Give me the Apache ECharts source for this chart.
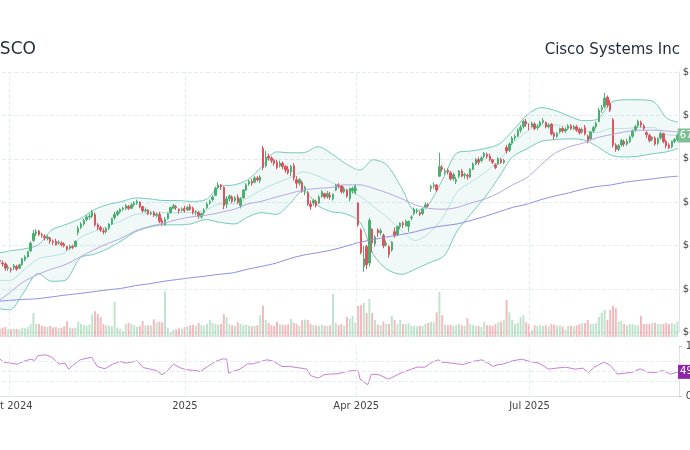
<!DOCTYPE html>
<html>
<head>
<meta charset="utf-8">
<title>CSCO</title>
<script src="https://cdn.jsdelivr.net/npm/echarts@6/dist/echarts.min.js"></script>
<style>
  html, body { margin: 0; padding: 0; background: #fff; }
  #chart { width: 690px; height: 450px; }
</style>
</head>
<body>
<div id="chart"></div>
<script>
const ticker = 'CSCO';
const company = 'Cisco Systems Inc';

// trading days
const days = [
  '2024-09-24','2024-09-25','2024-09-26','2024-09-27','2024-09-30',
  '2024-10-01','2024-10-02','2024-10-03','2024-10-04','2024-10-07','2024-10-08','2024-10-09','2024-10-10','2024-10-11','2024-10-14','2024-10-15','2024-10-16','2024-10-17','2024-10-18','2024-10-21','2024-10-22','2024-10-23','2024-10-24','2024-10-25','2024-10-28','2024-10-29','2024-10-30','2024-10-31',
  '2024-11-01','2024-11-04','2024-11-05','2024-11-06','2024-11-07','2024-11-08','2024-11-11','2024-11-12','2024-11-13','2024-11-14','2024-11-15','2024-11-18','2024-11-19','2024-11-20','2024-11-21','2024-11-22','2024-11-25','2024-11-26','2024-11-27','2024-11-29',
  '2024-12-02','2024-12-03','2024-12-04','2024-12-05','2024-12-06','2024-12-09','2024-12-10','2024-12-11','2024-12-12','2024-12-13','2024-12-16','2024-12-17','2024-12-18','2024-12-19','2024-12-20','2024-12-23','2024-12-24','2024-12-26','2024-12-27','2024-12-30','2024-12-31',
  '2025-01-02','2025-01-03','2025-01-06','2025-01-07','2025-01-08','2025-01-10','2025-01-13','2025-01-14','2025-01-15','2025-01-16','2025-01-17','2025-01-21','2025-01-22','2025-01-23','2025-01-24','2025-01-27','2025-01-28','2025-01-29','2025-01-30','2025-01-31',
  '2025-02-03','2025-02-04','2025-02-05','2025-02-06','2025-02-07','2025-02-10','2025-02-11','2025-02-12','2025-02-13','2025-02-14','2025-02-18','2025-02-19','2025-02-20','2025-02-21','2025-02-24','2025-02-25','2025-02-26','2025-02-27','2025-02-28',
  '2025-03-03','2025-03-04','2025-03-05','2025-03-06','2025-03-07','2025-03-10','2025-03-11','2025-03-12','2025-03-13','2025-03-14','2025-03-17','2025-03-18','2025-03-19','2025-03-20','2025-03-21','2025-03-24','2025-03-25','2025-03-26','2025-03-27','2025-03-28','2025-03-31',
  '2025-04-01','2025-04-02','2025-04-03','2025-04-04','2025-04-07','2025-04-08','2025-04-09','2025-04-10','2025-04-11','2025-04-14','2025-04-15','2025-04-16','2025-04-17','2025-04-21','2025-04-22','2025-04-23','2025-04-24','2025-04-25','2025-04-28','2025-04-29','2025-04-30',
  '2025-05-01','2025-05-02','2025-05-05','2025-05-06','2025-05-07','2025-05-08','2025-05-09','2025-05-12','2025-05-13','2025-05-14','2025-05-15','2025-05-16','2025-05-19','2025-05-20','2025-05-21','2025-05-22','2025-05-23','2025-05-27','2025-05-28','2025-05-29','2025-05-30',
  '2025-06-02','2025-06-03','2025-06-04','2025-06-05','2025-06-06','2025-06-09','2025-06-10','2025-06-11','2025-06-12','2025-06-13','2025-06-16','2025-06-17','2025-06-18','2025-06-20','2025-06-23','2025-06-24','2025-06-25','2025-06-26','2025-06-27','2025-06-30',
  '2025-07-01','2025-07-02','2025-07-03','2025-07-07','2025-07-08','2025-07-09','2025-07-10','2025-07-11','2025-07-14','2025-07-15','2025-07-16','2025-07-17','2025-07-18','2025-07-21','2025-07-22','2025-07-23','2025-07-24','2025-07-25','2025-07-28','2025-07-29','2025-07-30','2025-07-31',
  '2025-08-01','2025-08-04','2025-08-05','2025-08-06','2025-08-07','2025-08-08','2025-08-11','2025-08-12','2025-08-13','2025-08-14','2025-08-15','2025-08-18','2025-08-19','2025-08-20','2025-08-21','2025-08-22','2025-08-25','2025-08-26','2025-08-27','2025-08-28','2025-08-29',
  '2025-09-02','2025-09-03','2025-09-04','2025-09-05','2025-09-08','2025-09-09','2025-09-10','2025-09-11','2025-09-12','2025-09-15','2025-09-16','2025-09-17'
];

// [open, close, low, high]
const ohlc = [
  [52.0,52.3,51.8,52.5],[52.3,52.6,52.1,52.8],[53.0,53.1,52.6,53.4],[53.3,53.2,52.9,53.6],[53.0,52.9,52.6,53.3],
  [52.9,52.4,52.1,53.1],[52.4,52.5,52.1,52.8],[52.3,52.2,51.9,52.5],[52.5,52.7,52.2,52.9],[52.6,52.3,52.1,52.8],[52.4,52.8,52.3,52.9],[52.8,53.5,52.7,53.6],[53.4,53.7,53.2,53.9],[53.7,54.3,53.6,54.4],[54.4,55.3,54.3,55.5],[55.6,56.4,55.4,56.8],[56.4,56.6,56.1,56.9],[56.7,56.3,56.1,56.8],[56.3,56.2,55.9,56.5],[56.1,55.9,55.6,56.3],[55.8,56.0,55.6,56.2],[55.9,55.5,55.2,56.0],[55.5,55.4,55.1,55.7],[55.5,55.1,55.0,55.8],[55.3,55.4,55.1,55.6],[55.3,55.1,54.9,55.5],[55.2,55.0,54.8,55.4],[54.9,54.6,54.4,55.0],
  [54.7,54.9,54.5,55.1],[54.9,54.8,54.6,55.1],[54.9,55.5,54.8,55.6],[56.5,57.0,56.2,57.3],[57.1,57.5,56.9,57.7],[57.5,57.9,57.3,58.1],[58.0,58.3,57.8,58.5],[58.3,58.4,58.0,58.7],[58.4,58.9,58.2,59.1],[58.6,57.4,57.2,58.8],[57.4,57.1,56.8,57.6],[57.1,56.8,56.6,57.3],[56.7,56.6,56.3,57.0],[56.6,57.0,56.4,57.1],[57.0,57.5,56.8,57.6],[57.5,58.1,57.4,58.2],[58.2,58.6,58.0,58.9],[58.6,58.9,58.4,59.1],[58.9,59.2,58.7,59.3],[59.2,59.3,59.0,59.5],
  [59.3,59.6,59.1,59.8],[59.5,59.3,59.1,59.7],[59.3,59.7,59.2,59.9],[59.7,59.9,59.5,60.1],[59.9,60.1,59.7,60.3],[60.0,59.5,59.3,60.1],[59.5,59.0,58.8,59.6],[59.0,59.1,58.8,59.4],[59.1,58.7,58.5,59.2],[58.7,58.8,58.5,59.0],[58.8,58.5,58.3,59.0],[58.5,58.6,58.2,58.8],[58.6,57.8,57.6,58.9],[57.9,57.6,57.3,58.2],[57.4,58.0,57.3,58.3],[58.1,58.7,58.0,58.8],[58.8,59.4,58.7,59.5],[59.3,59.6,59.2,59.8],[59.5,59.4,59.1,59.7],[59.2,59.0,58.7,59.3],[59.1,59.2,58.9,59.4],
  [59.3,59.0,58.8,59.6],[59.1,59.4,59.0,59.6],[59.5,59.2,59.0,59.8],[59.3,58.8,58.6,59.5],[58.8,58.9,58.5,59.1],[58.8,58.4,58.1,59.0],[58.3,58.7,58.1,58.8],[58.8,59.1,58.6,59.3],[59.4,59.8,59.2,60.0],[59.9,60.1,59.7,60.3],[60.3,60.6,60.1,60.8],[60.8,61.6,60.7,61.8],[61.7,62.0,61.5,62.3],[62.0,61.8,61.4,62.1],[61.7,59.6,59.2,61.8],[59.8,60.4,59.3,60.7],[60.4,60.7,60.1,60.9],[60.6,60.1,59.9,60.8],[60.2,60.5,60.0,60.7],[60.6,60.0,59.8,60.9],
  [59.6,60.4,59.3,60.6],[60.5,61.4,60.4,61.5],[61.4,62.0,61.3,62.2],[62.1,62.4,61.9,62.6],[62.4,62.2,61.9,62.7],[62.3,62.8,62.2,63.0],[62.8,62.6,62.4,63.0],[62.5,62.9,62.2,63.1],[66.2,64.0,63.7,66.5],[64.2,65.2,64.0,65.9],[65.3,65.1,64.8,65.6],[65.1,64.8,64.5,65.3],[64.8,64.5,64.2,65.0],[64.6,64.0,63.8,64.9],[64.2,64.5,64.0,64.8],[64.5,64.1,63.8,64.7],[64.1,63.7,63.4,64.3],[63.8,63.4,63.2,64.2],[63.5,64.1,63.0,64.3],
  [64.2,62.8,62.5,64.5],[62.6,62.2,61.6,63.0],[62.2,62.6,61.9,62.8],[62.3,61.3,61.1,62.5],[61.3,61.7,60.8,61.9],[61.1,59.8,59.6,61.3],[59.8,59.5,59.1,60.2],[59.9,60.2,59.6,60.4],[60.1,59.6,59.4,60.3],[59.9,60.6,59.8,60.8],[60.7,61.2,60.5,61.4],[61.0,60.6,60.4,61.1],[60.6,61.0,60.4,61.3],[60.8,60.6,60.3,61.2],[60.4,60.9,60.2,61.0],[61.4,62.0,61.3,62.1],[62.0,61.8,61.6,62.2],[61.9,61.2,61.0,62.0],[61.2,61.5,61.0,61.8],[61.4,60.7,60.5,61.5],[60.4,61.6,60.1,61.7],
  [61.3,61.6,61.0,61.8],[61.1,61.9,60.9,62.1],[59.9,57.4,57.2,60.0],[56.8,54.2,54.0,57.0],[52.6,53.5,52.0,55.0],[54.9,52.8,52.3,55.1],[53.0,57.9,52.6,58.2],[56.9,55.3,54.2,57.0],[55.2,56.0,54.9,56.2],[56.8,56.5,56.0,57.0],[56.5,56.7,56.2,57.0],[56.2,55.0,54.7,56.4],[55.1,55.3,54.9,55.6],[54.9,54.0,53.6,55.0],[54.5,55.4,54.3,55.5],[56.6,56.2,55.9,57.1],[56.3,57.2,56.1,57.3],[57.2,57.6,56.9,57.7],[57.6,57.4,57.0,57.8],[57.3,57.8,57.2,58.0],[57.2,57.8,56.6,57.9],
  [58.2,58.3,57.9,58.5],[58.7,59.2,58.5,59.4],[58.9,59.0,58.7,59.3],[58.8,58.6,58.4,59.0],[58.7,59.2,58.5,59.3],[59.4,59.7,59.2,60.0],[59.7,59.6,59.4,59.9],[61.6,61.8,61.2,62.0],[61.9,62.0,61.6,62.3],[62.0,61.4,61.2,62.1],[63.0,64.1,62.9,65.7],[64.0,63.8,63.5,64.3],[63.5,63.6,63.2,63.9],[63.7,63.5,63.2,63.9],[63.4,62.7,62.5,63.6],[62.7,63.2,62.5,63.4],[62.4,62.6,62.1,62.9],[63.0,63.6,62.8,63.7],[63.6,63.0,62.9,63.8],[63.1,63.2,62.7,63.4],[63.1,63.0,62.6,63.3],
  [62.9,63.8,62.8,63.9],[63.8,64.4,63.7,64.6],[64.4,64.9,64.3,65.1],[64.9,64.6,64.3,65.2],[64.8,65.1,64.6,65.3],[65.3,65.6,65.1,65.8],[65.5,65.3,65.0,65.7],[65.3,64.9,64.7,65.6],[64.9,64.6,64.4,65.0],[64.3,64.0,63.8,64.5],[64.4,65.0,64.3,65.2],[64.9,64.6,64.4,65.1],[64.6,64.8,64.4,65.0],[66.3,65.9,65.6,66.6],[66.0,66.7,65.8,66.9],[66.8,67.4,66.6,67.6],[67.4,67.6,67.1,67.8],[67.6,68.3,67.5,68.5],[68.3,68.6,68.0,68.9],[68.7,69.3,68.5,69.5],
  [69.3,69.0,68.7,69.6],[68.9,68.6,68.3,69.1],[68.7,69.1,68.6,69.3],[69.0,68.5,68.3,69.2],[68.6,68.7,68.3,69.0],[68.8,69.2,68.6,69.4],[69.2,69.4,69.0,69.7],[69.2,68.7,68.5,69.3],[68.7,68.9,68.5,69.1],[69.0,67.9,67.7,69.1],[67.9,67.6,67.2,68.1],[67.6,67.9,67.4,68.1],[68.1,68.5,67.9,68.6],[68.5,68.2,68.0,68.7],[68.2,68.4,68.0,68.6],[68.5,68.8,68.3,69.0],[68.8,68.5,68.3,69.0],[68.5,68.7,68.3,68.9],[68.7,68.3,68.1,68.9],[68.4,68.0,67.8,68.6],[68.1,68.4,67.9,68.6],[68.6,67.9,67.7,68.9],
  [67.6,67.0,66.8,67.8],[67.3,68.1,67.2,68.2],[68.2,68.6,68.0,68.8],[68.7,69.1,68.5,69.3],[69.3,70.6,69.2,70.9],[70.7,70.9,70.3,71.2],[71.0,72.0,70.8,72.6],[72.1,71.2,70.9,72.3],[71.4,70.6,70.4,71.8],[69.5,66.6,66.3,69.7],[66.6,66.1,65.8,66.8],[66.1,66.5,65.9,66.7],[66.6,67.1,66.4,67.3],[67.0,66.7,66.4,67.2],[66.7,67.0,66.5,67.3],[67.0,67.5,66.8,67.7],[67.6,68.2,67.4,68.4],[68.3,68.7,68.1,68.9],[68.8,69.3,68.6,69.5],[69.2,68.9,68.6,69.4],[68.8,68.5,68.2,69.0],
  [68.0,67.8,67.4,68.2],[67.7,67.1,66.9,67.9],[67.2,67.5,67.0,67.6],[67.4,66.7,66.5,67.6],[66.8,67.3,66.6,67.5],[67.4,67.9,67.2,68.1],[67.9,67.0,66.8,68.0],[67.0,66.5,66.2,67.2],[66.6,66.3,66.1,66.8],[66.4,67.0,66.2,67.1],[67.0,67.2,66.8,67.4],[67.2,67.7,67.0,67.9]
];

// volume, millions
const volume = [
  16,15,17,14,16,
  17,13,13,14,14,13,16,15,17,22,41,22,22,19,18,17,19,16,17,15,16,18,27,
  16,15,16,26,22,20,19,21,38,44,39,34,22,20,19,18,60,16,14,10,
  22,24,22,20,17,19,27,20,20,20,30,25,26,25,78,16,8,12,13,15,14,
  17,18,20,21,19,24,20,19,22,29,24,22,21,22,39,34,22,20,19,25,
  22,20,21,19,18,19,20,37,53,29,24,20,19,26,22,21,20,22,31,
  24,22,19,29,30,29,22,20,20,19,21,19,19,20,73,24,20,22,19,34,31,
  36,24,53,54,58,41,65,41,29,21,20,26,22,22,36,29,22,29,22,22,24,
  19,19,18,19,19,22,24,26,25,42,77,37,21,20,21,19,20,22,20,19,32,
  22,20,19,19,17,26,20,20,19,22,25,26,29,63,42,29,22,24,34,37,
  25,22,12,20,19,20,19,20,18,22,21,19,20,18,12,19,19,18,20,22,24,24,
  29,22,22,24,34,41,46,29,46,53,49,26,27,22,20,22,22,20,20,36,22,
  22,22,24,24,22,22,22,24,22,24,22,26
];

// indicator lines, read weekly
const lineDates = [
  '2024-09-16','2024-09-24','2024-10-01','2024-10-08','2024-10-16','2024-10-23','2024-10-30','2024-11-07','2024-11-14','2024-11-21','2024-11-29',
  '2024-12-06','2024-12-13','2024-12-21','2024-12-28','2025-01-04','2025-01-12','2025-01-19','2025-01-27','2025-02-03','2025-02-10','2025-02-18',
  '2025-02-25','2025-03-04','2025-03-12','2025-03-19','2025-03-26','2025-04-03','2025-04-10','2025-04-17','2025-04-25','2025-05-02','2025-05-09',
  '2025-05-17','2025-05-24','2025-05-31','2025-06-08','2025-06-15','2025-06-22','2025-06-30','2025-07-07','2025-07-14','2025-07-22','2025-07-29',
  '2025-08-05','2025-08-13','2025-08-20','2025-08-27','2025-09-04','2025-09-11','2025-09-17'
];
const bbUpper = [54.0,54.1,54.4,54.6,55.1,56.8,57.4,58.1,59.1,59.7,60.1,60.5,60.4,60.2,60.2,60.1,60.3,61.8,62.0,62.6,64.0,65.8,65.7,65.7,66.4,65.6,64.5,63.7,64.9,64.3,61.6,59.0,59.8,62.9,65.7,65.9,66.2,66.7,68.2,70.1,70.9,70.6,69.9,69.4,69.5,71.5,71.8,71.8,71.6,69.7,69.2];
const bbMid = [51.1,51.0,51.0,52.1,53.5,53.8,54.2,55.9,56.6,57.2,57.9,58.6,58.7,58.8,58.8,58.8,59.1,59.8,59.8,60.5,61.4,62.2,62.8,63.5,63.0,62.3,61.6,60.7,59.5,58.3,56.7,55.6,56.4,58.4,61.2,62.3,63.5,64.8,66.7,68.2,68.9,68.9,68.6,68.3,68.0,68.5,68.5,68.6,68.6,67.8,67.7];
const bbLower = [48.1,47.8,47.6,49.5,51.8,50.9,51.0,53.6,54.0,54.6,55.6,56.6,57.1,57.4,57.4,57.5,58.0,57.7,57.5,58.3,58.8,58.6,59.8,61.3,59.6,58.9,58.7,57.7,54.0,52.3,51.7,52.3,53.0,53.8,56.7,58.6,60.7,62.9,65.2,66.2,67.0,67.2,67.3,67.2,66.5,65.4,65.2,65.3,65.6,65.8,66.2];
const sma50 = [47.9,48.5,49.6,50.8,51.7,52.3,52.8,53.7,54.5,55.2,55.9,56.7,57.2,57.6,58.0,58.3,58.5,58.8,59.2,59.8,60.1,60.6,61.0,61.4,61.6,61.7,62.0,62.0,61.6,61.1,60.4,59.7,59.3,59.2,59.4,59.9,60.4,61.1,62.0,62.9,64.3,65.6,66.4,66.8,67.4,67.8,68.1,68.3,68.3,68.2,68.1];
const sma200 = [48.6,48.6,48.7,48.8,48.9,49.1,49.3,49.5,49.7,49.9,50.1,50.4,50.6,50.9,51.1,51.3,51.5,51.7,51.9,52.3,52.6,53.0,53.5,53.9,54.2,54.5,54.9,55.4,55.7,56.0,56.3,56.6,57.0,57.3,57.5,57.9,58.4,58.9,59.4,59.8,60.3,60.7,61.1,61.5,61.8,62.0,62.3,62.5,62.7,62.9,63.0];

// RSI
const rsiDates = [
  '2024-09-26','2024-09-28','2024-10-01','2024-10-05','2024-10-08','2024-10-12','2024-10-14','2024-10-16','2024-10-20','2024-10-23','2024-10-27','2024-10-30',
  '2024-11-01','2024-11-03','2024-11-07','2024-11-13','2024-11-16','2024-11-20','2024-11-24','2024-11-28','2024-12-01','2024-12-07','2024-12-10','2024-12-13',
  '2024-12-17','2024-12-20','2024-12-23','2024-12-26','2024-12-30','2025-01-02','2025-01-07','2025-01-09','2025-01-13','2025-01-17','2025-01-21','2025-01-23',
  '2025-01-24','2025-01-26','2025-01-30','2025-02-03','2025-02-06','2025-02-08','2025-02-13','2025-02-16','2025-02-21','2025-02-25','2025-03-03','2025-03-06',
  '2025-03-08','2025-03-12','2025-03-15','2025-03-18','2025-03-22','2025-03-26','2025-03-30','2025-04-02','2025-04-03','2025-04-07','2025-04-09','2025-04-13',
  '2025-04-18','2025-04-25','2025-04-30','2025-05-03','2025-05-07','2025-05-11','2025-05-14','2025-05-16','2025-05-21','2025-05-27','2025-06-01','2025-06-06',
  '2025-06-09','2025-06-12','2025-06-14','2025-06-17','2025-06-22','2025-06-27','2025-07-01','2025-07-06','2025-07-11','2025-07-15','2025-07-20','2025-07-25',
  '2025-07-29','2025-08-01','2025-08-04','2025-08-05','2025-08-09','2025-08-12','2025-08-14','2025-08-16','2025-08-20','2025-08-24','2025-08-28','2025-09-01',
  '2025-09-05','2025-09-09','2025-09-13','2025-09-17'
];
const rsiValues = [
  74.7,68.7,66.7,64.7,70,74.7,72,82,83.4,78.7,64.7,66.7,
  54.7,62,73.4,78.7,60,55.4,64.7,70,66.7,71.4,58,55.4,
  52,43.4,52,64.7,56.7,53.4,52,50,60,70,75.4,74.7,
  46.7,50,54.7,65.4,65.4,68,73.4,71.4,60,60,56.7,54.7,
  42,36.7,43.4,44.7,45.4,49,52,51.4,34.7,23.4,44.7,43.4,
  34.7,48,54.7,58.7,58.7,68.7,73.4,68.7,66.7,64,70,73.4,
  66.7,60,63.4,64.7,71.4,74.7,70,66.7,54.7,56.7,58.7,54.7,
  56.7,48,58.7,54.7,68.7,63.4,55.4,44.7,46.7,48,55.4,48.7,
  48,52,44.7,49.3
];
const rsiLevels = [30, 50, 70];
const quarterTicks = ['2024-10-01','2025-01-01','2025-04-01','2025-07-01'];
const MONTHS = ['Jan','Feb','Mar','Apr','May','Jun','Jul','Aug','Sep','Oct','Nov','Dec'];

const UP = '#4caf72';
const DOWN = '#e0525f';
const BAND = '#74c9bb';
const GRID = '#e3edf1';
const AXIS = '#dde3e6';
const TEXT = '#444';

const toTime = s => new Date(s + 'T00:00:00').getTime();
const DAY = 864e5;
// calendar span covered by the plot width (labels, indicator lines)
const tMin = toTime('2024-10-01') - 10.35 * DAY;
const tMax = toTime('2024-10-01') + 351.4 * DAY;
const tickValues = quarterTicks.map(toTime);
const lastClose = ohlc[ohlc.length - 1][1];

const fmtDate = v => {
  const d = new Date(v);
  return d.getMonth() === 0 ? String(d.getFullYear()) : MONTHS[d.getMonth()] + ' ' + d.getFullYear();
};
const series = (dates, vals) => dates.map((d, i) => [toTime(d), vals[i]]);

// vertical dashed lines at the quarter starts
const quarterLines = {
  silent: true, symbol: ['none', 'none'], label: { show: false },
  lineStyle: { color: GRID, type: 'dashed', width: 1 },
  data: tickValues.map(t => ({ xAxis: t }))
};

const hiddenCat = grid => ({
  type: 'category', gridIndex: grid, data: days, boundaryGap: true,
  axisLine: { show: false }, axisTick: { show: false }, axisLabel: { show: false }, splitLine: { show: false }
});

const chart = echarts.init(document.getElementById('chart'), null, { renderer: 'canvas' });

chart.setOption({
  animation: false,
  backgroundColor: '#fff',
  textStyle: { fontFamily: 'DejaVu Sans' },
  title: [
    { text: ticker, left: -12, top: 41, padding: 0, textStyle: { fontSize: 17, fontWeight: 'normal', color: '#1f2a3c' } },
    { text: company, right: 10, top: 43, padding: 0, textStyle: { fontSize: 15, fontWeight: 'normal', color: '#1f2a3c' } }
  ],
  grid: [
    { left: -10, right: 11.2, top: 72, height: 260.5, outerBoundsMode: 'none' },
    { left: -10, right: 11.2, top: 290, height: 47, outerBoundsMode: 'none' },
    { left: -10, right: 11.2, top: 346.5, height: 50, outerBoundsMode: 'none' }
  ],
  xAxis: [
    hiddenCat(0),
    {
      type: 'time', gridIndex: 0, min: tMin, max: tMax, position: 'top',
      axisLine: { show: false }, axisTick: { show: false }, axisLabel: { show: false }, splitLine: { show: false }
    },
    hiddenCat(1),
    {
      type: 'value', gridIndex: 2, min: tMin, max: tMax, position: 'bottom',
      axisLine: { show: true, lineStyle: { color: AXIS } },
      axisTick: { show: false },
      axisLabel: { customValues: tickValues, formatter: fmtDate, fontSize: 10, color: TEXT, margin: 5 },
      splitLine: { show: false }
    }
  ],
  yAxis: [
    {
      type: 'value', gridIndex: 0, position: 'right', min: 45, max: 75, interval: 5,
      axisLine: { show: true, lineStyle: { color: AXIS } },
      axisTick: { show: false },
      axisLabel: { formatter: v => '$' + v, fontSize: 10, color: TEXT, margin: 4 },
      splitLine: { lineStyle: { color: GRID, type: 'dashed' } }
    },
    { type: 'value', gridIndex: 1, min: 0, max: 80, show: false },
    {
      type: 'value', gridIndex: 2, position: 'right', min: 0, max: 100, interval: 100,
      axisLine: { show: true, lineStyle: { color: AXIS } },
      axisTick: { show: true, length: 3, lineStyle: { color: '#bbb' } },
      axisLabel: { fontSize: 10, color: TEXT, margin: 7 },
      splitLine: { show: false }
    }
  ],
  series: [
    {
      name: 'BB lower', type: 'line', xAxisIndex: 1, yAxisIndex: 0, stack: 'bb',
      data: series(lineDates, bbLower),
      smooth: 0.3, symbol: 'none', lineStyle: { color: BAND, width: 1 }, z: 1,
      markLine: quarterLines
    },
    {
      name: 'BB upper', type: 'line', xAxisIndex: 1, yAxisIndex: 0, stack: 'bb',
      data: series(lineDates, bbUpper.map((v, i) => v - bbLower[i])),
      smooth: 0.3, symbol: 'none', lineStyle: { color: BAND, width: 1 },
      areaStyle: { color: 'rgba(77,182,172,0.12)' }, z: 1
    },
    {
      name: 'BB mid', type: 'line', xAxisIndex: 1, yAxisIndex: 0,
      data: series(lineDates, bbMid),
      smooth: 0.3, symbol: 'none', lineStyle: { color: 'rgba(77,182,172,0.35)', width: 1 }, z: 2
    },
    {
      name: 'SMA 50', type: 'line', xAxisIndex: 1, yAxisIndex: 0,
      data: series(lineDates, sma50),
      smooth: 0.3, symbol: 'none', lineStyle: { color: '#b7a6e0', width: 1 }, z: 4
    },
    {
      name: 'SMA 200', type: 'line', xAxisIndex: 1, yAxisIndex: 0,
      data: series(lineDates, sma200),
      smooth: 0.3, symbol: 'none', lineStyle: { color: '#8d91de', width: 1 }, z: 4
    },
    {
      name: ticker, type: 'candlestick', xAxisIndex: 0, yAxisIndex: 0,
      data: ohlc,
      barWidth: 2,
      itemStyle: { color: UP, color0: DOWN, borderColor: UP, borderColor0: DOWN, borderWidth: 1 },
      z: 3,
      markLine: {
        silent: true, symbol: ['none', 'none'],
        lineStyle: { color: 'rgba(0,0,0,0)', width: 1 },
        label: {
          position: 'end', distance: -1, formatter: lastClose.toFixed(2),
          backgroundColor: '#7fbf95', color: '#fff', fontSize: 10, padding: [2, 2]
        },
        data: [{ yAxis: lastClose }]
      }
    },
    {
      name: 'Volume', type: 'bar', xAxisIndex: 2, yAxisIndex: 1, barWidth: 2,
      data: volume.map((v, i) => ({
        value: v,
        itemStyle: { color: ohlc[i][1] >= ohlc[i][0] ? 'rgba(76,175,114,0.35)' : 'rgba(224,82,95,0.4)' }
      })),
      z: 1
    },
    {
      name: 'RSI', type: 'line', xAxisIndex: 3, yAxisIndex: 2,
      data: series(rsiDates, rsiValues),
      symbol: 'none', lineStyle: { color: '#c77fd6', width: 1 },
      endLabel: {
        show: true, distance: 0, formatter: p => p.value[1].toFixed(1),
        backgroundColor: '#8e24aa', color: '#fff', fontSize: 10, padding: [2, 2]
      },
      markLine: {
        silent: true, symbol: ['none', 'none'], label: { show: false },
        lineStyle: { color: GRID, type: 'dashed', width: 1 },
        data: rsiLevels.map(v => ({ yAxis: v })).concat(tickValues.map(t => ({ xAxis: t })))
      }
    }
  ]
});
</script>
</body>
</html>
